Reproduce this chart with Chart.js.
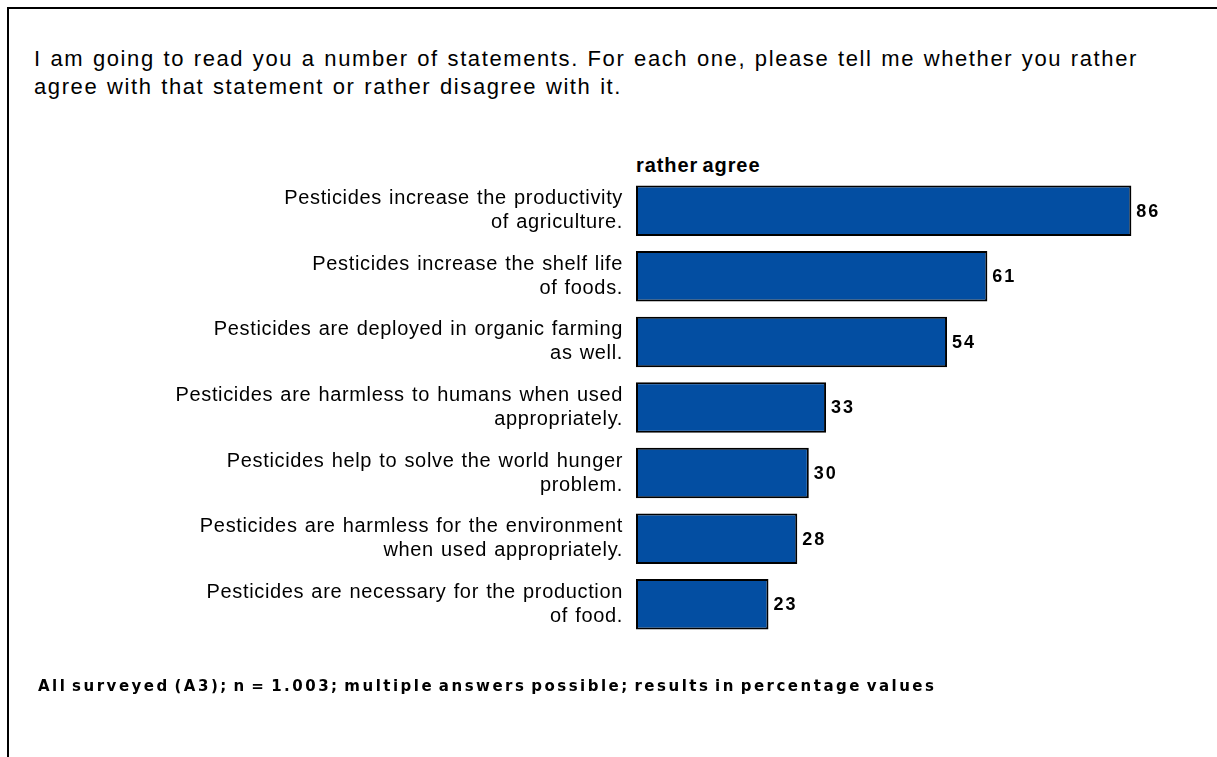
<!DOCTYPE html>
<html>
<head>
<meta charset="utf-8">
<script src="https://cdn.jsdelivr.net/npm/chart.js@4"></script>
<style>
  html, body { margin:0; padding:0; background:#fff; }
  body { width:1217px; height:757px; position:relative; overflow:hidden; font-family:"Liberation Sans", Arial, sans-serif; }
  #frame { position:absolute; left:7px; top:7px; width:1300px; height:800px; border-left:2px solid #000; border-top:2px solid #000; }
  #title { position:absolute; left:34px; top:45px; font-size:22px; line-height:28px; color:#000; letter-spacing:1.6px; word-spacing:1px; white-space:nowrap; }
  #head { position:absolute; left:636px; top:154px; font-size:20px; font-weight:bold; color:#000; letter-spacing:0.9px; word-spacing:-2px; }
  #foot { position:absolute; left:38px; top:677px; font-family:"DejaVu Sans", sans-serif; font-size:15px; font-weight:bold; letter-spacing:2.5px; word-spacing:-3px; color:#000; white-space:nowrap; }
  #wrap { position:absolute; left:0; top:0; width:1217px; height:757px; }
</style>
</head>
<body>
<div id="frame"></div>
<div id="title">I am going to read you a number of statements. For each one, please tell me whether you rather<br>agree with that statement or rather disagree with it.</div>
<div id="head">rather agree</div>
<div id="wrap"><canvas id="c" width="1217" height="757"></canvas></div>
<div id="foot">All surveyed (A3); n = 1.003; multiple answers possible; results in percentage values</div>
<script>
const categories = [
  ["Pesticides increase the productivity", "of agriculture."],
  ["Pesticides increase the shelf life", "of foods."],
  ["Pesticides are deployed in organic farming", "as well."],
  ["Pesticides are harmless to humans when used", "appropriately."],
  ["Pesticides help to solve the world hunger", "problem."],
  ["Pesticides are harmless for the environment", "when used appropriately."],
  ["Pesticides are necessary for the production", "of food."]
];
const ratherAgree = [86, 61, 54, 33, 30, 28, 23];

const spacing = {
  id: 'spacing',
  beforeDraw(chart) {
    try { chart.ctx.letterSpacing = '0.65px'; chart.ctx.wordSpacing = '1px'; } catch(e) {}
  }
};

const valueLabels = {
  id: 'valueLabels',
  afterDatasetsDraw(chart) {
    const ctx = chart.ctx;
    const meta = chart.getDatasetMeta(0);
    ctx.save();
    ctx.font = 'bold 18px "Liberation Sans", Arial, sans-serif';
    ctx.fillStyle = '#000';
    ctx.textBaseline = 'middle';
    ctx.textAlign = 'left';
    try { ctx.letterSpacing = '2px'; ctx.wordSpacing = '0px'; } catch(e) {}
    meta.data.forEach((bar, i) => {
      ctx.fillText(String(chart.data.datasets[0].data[i]), bar.x + 5, bar.y + 1);
    });
    ctx.restore();
  }
};

new Chart(document.getElementById('c'), {
  type: 'bar',
  data: {
    labels: categories,
    datasets: [{
      data: ratherAgree,
      backgroundColor: '#034ea2',
      borderColor: '#000',
      borderWidth: 2,
      borderSkipped: false,
      categoryPercentage: 1,
      barPercentage: 0.77
    }]
  },
  options: {
    indexAxis: 'y',
    responsive: false,
    animation: false,
    events: [],
    layout: { padding: { left: 0, right: 5, top: 178, bottom: 120 } },
    plugins: { legend: { display: false }, tooltip: { enabled: false } },
    scales: {
      x: { display: false, min: 0, max: 100 },
      y: {
        grid: { display: false, drawTicks: false },
        border: { display: false },
        afterFit(scale) { scale.width = 636; },
        ticks: {
          padding: 13,
          color: '#000',
          font: { family: '"Liberation Sans", Arial, sans-serif', size: 20, lineHeight: 1.2 }
        }
      }
    }
  },
  plugins: [spacing, valueLabels]
});
</script>
</body>
</html>
